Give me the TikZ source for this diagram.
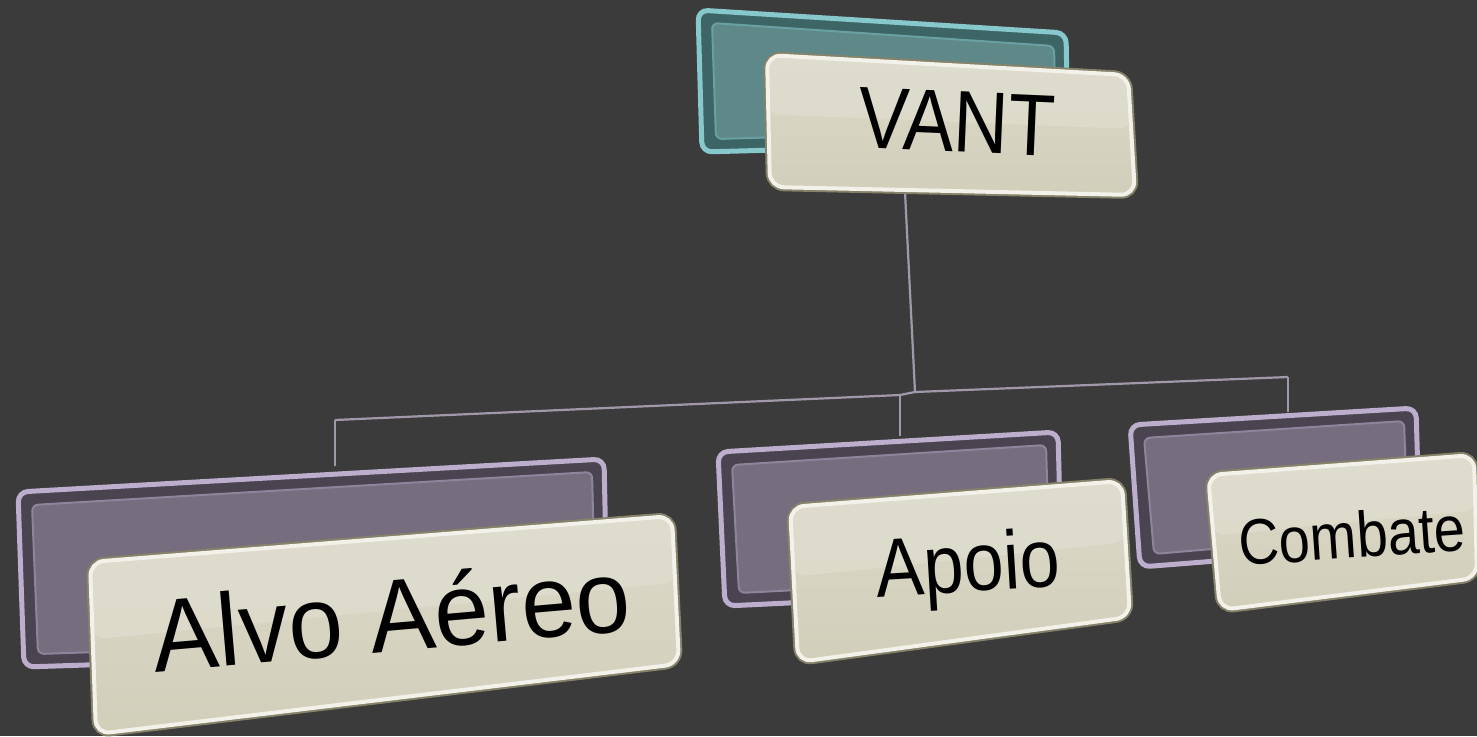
\documentclass[tikz,border=0pt]{standalone}
\usepackage{fontspec}
\setmainfont{Liberation Sans}
\usetikzlibrary{calc}

\definecolor{bgdark}{HTML}{3B3B3B}
\definecolor{linkline}{HTML}{A199AA}
\definecolor{tealrim}{HTML}{86C8CC}
\definecolor{tealface}{HTML}{5E8988}
\definecolor{tealdeep}{HTML}{3E6566}
\definecolor{lilacrim}{HTML}{BCAECC}
\definecolor{lilacface}{HTML}{766E7F}
\definecolor{lilacdeep}{HTML}{4A4451}
\definecolor{creamtop}{HTML}{DCD9C9}
\definecolor{creambottom}{HTML}{D1CEBA}
\definecolor{creamgloss}{HTML}{E2E0D2}
\definecolor{creamrim}{HTML}{F3F2EA}
\definecolor{creamedge}{HTML}{858269}

% back panel: four corner coordinates, rim colour, face colour, deep colour
\newcommand\backpanel[7]{%
  \draw[rounded corners=5pt, line width=2.5pt, draw=#5, fill=#7]
    (#1) -- (#2) -- (#3) -- (#4) -- cycle;
  \draw[rounded corners=3pt, line width=1pt, draw=#5!60!#7, fill=#6]
    ($(#1)+(14,13)$) -- ($(#2)+(-12,13)$) -- ($(#3)+(-12,-13)$) -- ($(#4)+(14,-13)$) -- cycle;
}
% front panel with a glossy upper half
\newcommand\frontpanel[4]{%
  \draw[rounded corners=7pt, line width=4pt, draw=creamedge]
    (#1) -- (#2) -- (#3) -- (#4) -- cycle;
  \shade[rounded corners=7pt, top color=creamtop, bottom color=creambottom]
    (#1) -- (#2) -- (#3) -- (#4) -- cycle;
  \fill[creamgloss, opacity=0.55, rounded corners=6pt]
    (#1) -- (#2) -- ($(#2)!0.45!(#3)$) -- ($(#1)!0.45!(#4)$) -- cycle;
  \draw[rounded corners=7pt, draw=creamrim, line width=2pt]
    (#1) -- (#2) -- (#3) -- (#4) -- cycle;
}

\begin{document}
\begin{tikzpicture}[x=0.5pt, y=-0.5pt,
  link/.style={draw=linkline, line width=1.1pt},
  label/.style={inner sep=0pt, text=black}]

\fill[bgdark] (0,0) rectangle (1477,736);
\useasboundingbox (0,0) rectangle (1477,736);

% panel corners
\coordinate (rb1) at (698,10);   \coordinate (rb2) at (1066,33);
\coordinate (rb3) at (1068,142); \coordinate (rb4) at (702,152);
\coordinate (rf1) at (767,55);   \coordinate (rf2) at (1128,75);
\coordinate (rf3) at (1135,195); \coordinate (rf4) at (770,187);

\coordinate (ab1) at (18,492);   \coordinate (ab2) at (604,459);
\coordinate (ab3) at (608,648);  \coordinate (ab4) at (24,667);
\coordinate (af1) at (90,562);   \coordinate (af2) at (672,516);
\coordinate (af3) at (679,664);  \coordinate (af4) at (96,734);

\coordinate (pb1) at (718,452);  \coordinate (pb2) at (1058,432);
\coordinate (pb3) at (1062,590); \coordinate (pb4) at (725,606);
\coordinate (pf1) at (790,507);  \coordinate (pf2) at (1122,481);
\coordinate (pf3) at (1130,617); \coordinate (pf4) at (798,662);

\coordinate (cb1) at (1130,425); \coordinate (cb2) at (1416,408);
\coordinate (cb3) at (1420,545); \coordinate (cb4) at (1140,567);
\coordinate (cf1) at (1208,475); \coordinate (cf2) at (1474,455);
\coordinate (cf3) at (1477,578); \coordinate (cf4) at (1220,610);

% connector junctions
\coordinate (rootout) at (905,192);
\coordinate (hub) at (915,392);
\coordinate (barL) at (335,420);
\coordinate (barM) at (900,395);
\coordinate (barR) at (1288,377);
\coordinate (inA) at (335,466);
\coordinate (inP) at (900,436);
\coordinate (inC) at (1288,412);

% connectors
\draw[link] (rootout) -- (hub);
\draw[link] (barL) -- (barM) -- (hub) -- (barR);
\draw[link] (barL) -- (inA);
\draw[link] (barM) -- (inP);
\draw[link] (barR) -- (inC);

% root
\backpanel{rb1}{rb2}{rb3}{rb4}{tealrim}{tealface}{tealdeep}
\frontpanel{rf1}{rf2}{rf3}{rf4}
\node[label, rotate=-2.5, font=\fontsize{38}{38}\selectfont, yscale=1.15] (tVANT) at (957,122) {VANT};

% children
\backpanel{ab1}{ab2}{ab3}{ab4}{lilacrim}{lilacface}{lilacdeep}
\frontpanel{af1}{af2}{af3}{af4}
\node[label, rotate=5, font=\fontsize{49}{49}\selectfont, yscale=1.05] (tAlvo) at (391,614) {Alvo Aéreo};

\backpanel{pb1}{pb2}{pb3}{pb4}{lilacrim}{lilacface}{lilacdeep}
\frontpanel{pf1}{pf2}{pf3}{pf4}
\node[label, rotate=3.5, font=\fontsize{36}{36}\selectfont, yscale=1.15] (tApoio) at (968,570) {Apoio};

\backpanel{cb1}{cb2}{cb3}{cb4}{lilacrim}{lilacface}{lilacdeep}
\frontpanel{cf1}{cf2}{cf3}{cf4}
\node[label, rotate=4, font=\fontsize{28}{28}\selectfont, yscale=1.15] (tCombate) at (1352,535) {Combate};

\end{tikzpicture}
\end{document}
